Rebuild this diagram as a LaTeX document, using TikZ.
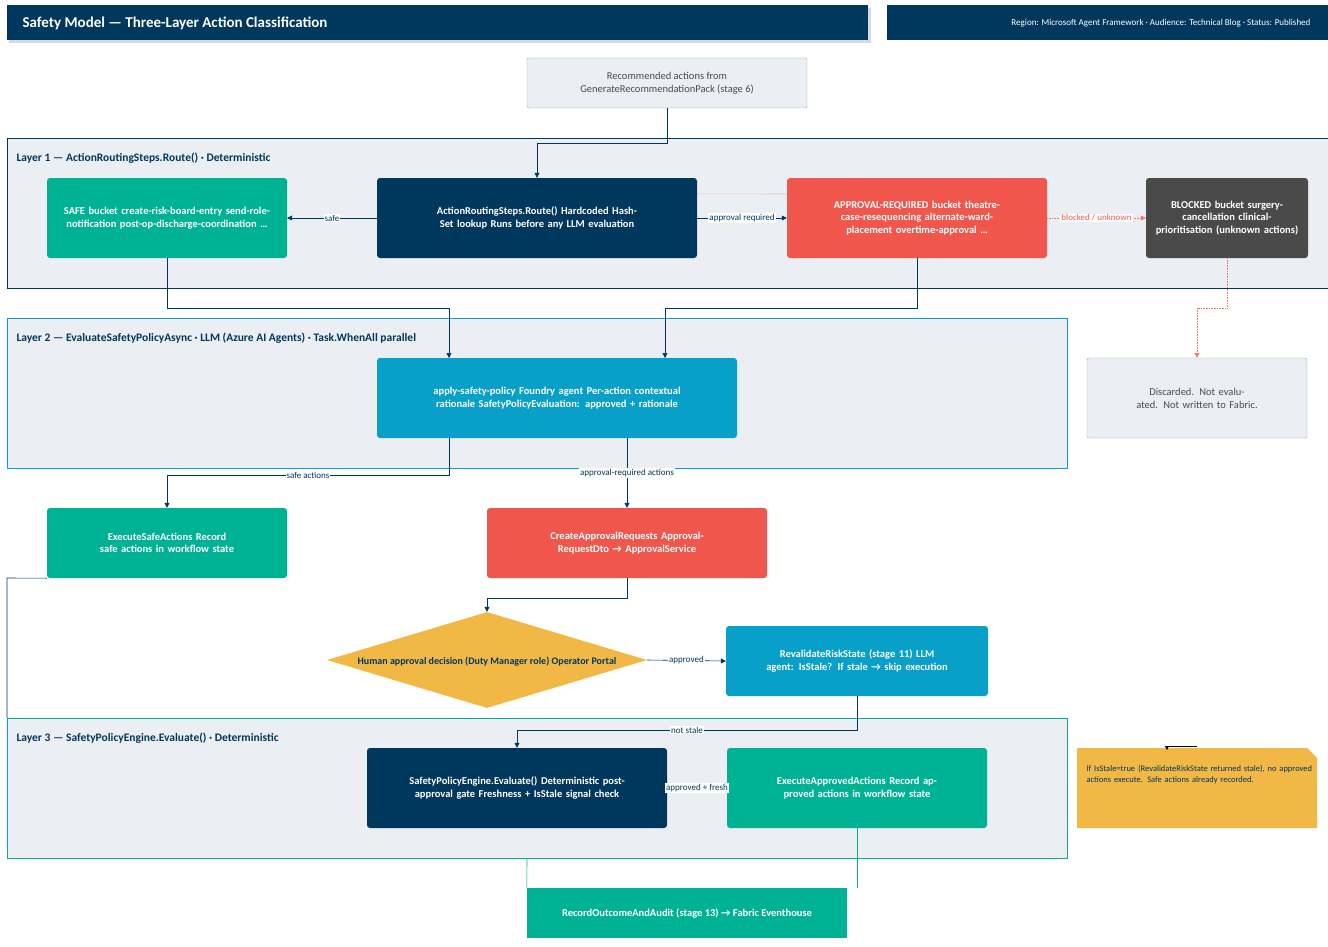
\documentclass[tikz,border=0pt]{standalone}
\usepackage{fontspec}
\setmainfont{Carlito}
\usetikzlibrary{positioning,shapes.geometric,shapes.misc,arrows.meta}
\definecolor{navy}{RGB}{0,56,93}
\definecolor{verde}{RGB}{0,178,148}
\definecolor{rosso}{RGB}{240,86,76}
\definecolor{grigio}{RGB}{74,74,74}
\definecolor{ciano}{RGB}{8,160,200}
\definecolor{giallo}{RGB}{241,184,69}
\definecolor{sfondo}{RGB}{235,239,244}
\definecolor{bordo}{RGB}{150,165,180}
\tikzset{
    box/.style={rectangle, rounded corners=3pt, text=white, font={\fontsize{10.5}{12.5}\selectfont\bfseries}, align=center, inner sep=2pt},
    plain box/.style={rectangle, rounded corners=2pt, draw=bordo, fill=sfondo, text=grigio, font={\fontsize{10.5}{13}\selectfont}, align=center},
    layer/.style={rectangle, fill=sfondo, thick},
    layer label/.style={anchor=west, text=navy, font={\fontsize{11.5}{13}\selectfont\bfseries}},
    link/.style={navy, semithick, -{Triangle[length=5pt,width=5pt]}},
    dotlink/.style={rosso!80, densely dotted, semithick, -{Triangle[length=5pt,width=5pt]}},
    link label/.style={fill=white, inner sep=1pt, font={\fontsize{9}{10}\selectfont}, text=navy},
}
\begin{document}
\begin{tikzpicture}[x=1pt,y=-1pt]
    \useasboundingbox (0,0) rectangle (1328,947);

    % header
    \fill[black!15] (9,8) rectangle (871,43);
    \node[fill=navy, minimum width=861, minimum height=35, anchor=north west] (title) at (7,5) {};
    \node[anchor=west, text=white, font={\fontsize{15}{17}\selectfont\bfseries}] at (19,23) {Safety Model — Three-Layer Action Classification};
    \node[fill=navy, minimum width=441, minimum height=35, anchor=north west] (meta) at (887,5) {};
    \node[anchor=east, text=white, font={\fontsize{9}{10}\selectfont}] at (1314,23) {Region: Microsoft Agent Framework · Audience: Technical Blog · Status: Published};

    % layers
    \draw[layer, draw=navy] (7,138) rectangle (1328,288);
    \node[layer label] at (13,158) {Layer 1 — ActionRoutingSteps.Route() · Deterministic};
    \draw[layer, draw=ciano] (7,318) rectangle (1067,468);
    \node[layer label] at (13,338) {Layer 2 — EvaluateSafetyPolicyAsync · LLM (Azure AI Agents) · Task.WhenAll parallel};

    % nodes
    \node[plain box, minimum width=280, minimum height=50] (source) at (667,83) {Recommended actions from\\GenerateRecommendationPack (stage 6)};
    \node[box, fill=navy, minimum width=320, minimum height=80, text width=316] (route) at (537,218) {ActionRoutingSteps.Route() Hardcoded HashSet lookup Runs before any LLM evaluation};
    \node[box, fill=verde, minimum width=240, minimum height=80, text width=215] (safe) at (167,218) {SAFE bucket create-risk-board-entry send-role-notification post-op-discharge-coordination …};
    \node[box, fill=rosso, minimum width=260, minimum height=80, text width=235] (approval) at (917,218) {APPROVAL-REQUIRED bucket theatre-case-resequencing alternate-ward-placement overtime-approval …};
    \node[box, fill=grigio, minimum width=160, minimum height=80, text width=158] (blocked) at (1227,218) {BLOCKED bucket surgery-cancellation clinical-prioritisation (unknown actions)};
    \node[box, fill=ciano, minimum width=360, minimum height=80, text width=350] (apply) at (557,398) {apply-safety-policy Foundry agent Per-action contextual rationale SafetyPolicyEvaluation: approved + rationale};
    \node[plain box, minimum width=220, minimum height=80, text width=210] (discard) at (1197,398) {Discarded. Not evaluated. Not written to Fabric.};
    \node[box, fill=verde, minimum width=240, minimum height=70, text width=225] (execsafe) at (167,543) {ExecuteSafeActions Record safe actions in workflow state};
    \node[box, fill=rosso, minimum width=280, minimum height=70, text width=265] (create) at (627,543) {CreateApprovalRequests ApprovalRequestDto → ApprovalService};
    \node[diamond, fill=giallo, minimum width=320, minimum height=96, inner sep=0pt, font={\fontsize{10.5}{12.5}\selectfont\bfseries}, text=navy] (human) at (487,660) {};
    \node[font={\fontsize{10}{12}\selectfont\bfseries}, text=navy] at (487,662) {Human approval decision (Duty Manager role) Operator Portal};
    \node[box, fill=ciano, minimum width=260, minimum height=70, text width=258] (revalidate) at (857,661) {RevalidateRiskState (stage 11) LLM agent: IsStale? If stale → skip execution};

    % layer 3
    \draw[navy, semithick] (execsafe.south west) -- (7,578) -- (7,718);
    \draw[layer, draw=verde] (7,718) rectangle (1067,858);
    \node[layer label] at (13,738) {Layer 3 — SafetyPolicyEngine.Evaluate() · Deterministic};
    \node[box, fill=navy, minimum width=300, minimum height=80, text width=270] (engine) at (517,788) {SafetyPolicyEngine.Evaluate() Deterministic post-approval gate Freshness + IsStale signal check};
    \node[box, fill=verde, minimum width=260, minimum height=80, text width=240] (execappr) at (857,788) {ExecuteApprovedActions Record approved actions in workflow state};
    \node[box, fill=verde, rounded corners=0pt, minimum width=320, minimum height=50] (record) at (687,913) {RecordOutcomeAndAudit (stage 13) → Fabric Eventhouse};
    \draw[verde, semithick] (527,858) -- (record.north west);

    % note
    \fill[giallo] (1077,748) -- (1307,748) -- (1317,758) -- (1317,828) -- (1077,828) -- cycle;
    \node[anchor=north west, text width=228, align=left, text=navy, font={\fontsize{8.5}{11}\selectfont}] (note) at (1083,762) {If IsStale=true (RevalidateRiskState returned stale), no approved actions execute. Safe actions already recorded.};
    \coordinate (notetip) at (1197,746);
    \draw[black, thick, -{Triangle[length=4pt,width=4pt]}] (notetip) -- (1167,746) -- (1167,750);

    % connectors
    \draw[link] (source.south) |- (537,143) -- (route.north);
    \draw[link] (route.west) -- node[link label]{safe} (safe.east);
    \draw[link] (route.east) -- node[link label]{approval required} (approval.west);
    \draw[rosso!80, densely dotted, semithick] (route.north east) ++(0,16) -- (787,194);
    \draw[dotlink] (approval.east) -- node[link label, text=rosso, pos=0.5]{blocked / unknown} (blocked.west);
    \draw[link] (safe.south) |- (449,308) -- (449,358);
    \draw[link] (approval.south) |- (665,308) -- (665,358);
    \draw[dotlink] (blocked.south) |- (1197,308) -- (discard.north);
    \draw[link] (449,438) |- node[link label, pos=0.75]{safe actions} (167,475) -- (execsafe.north);
    \draw[link] (627,438) -- node[link label, pos=0.5]{approval-required actions} (create.north);
    \draw[link] (create.south) |- (487,598) -- (human.north);
    \draw[link] (human.east) -- node[link label]{approved} (revalidate.west);
    \draw[link] (revalidate.south) |- node[link label, pos=0.75]{not stale} (517,730) -- (engine.north);
    \draw[navy, semithick] (engine.east) -- node[link label]{approved + fresh} (execappr.west);
    \draw[verde, semithick] (execappr.south) -- (857,888);
\end{tikzpicture}
\end{document}
